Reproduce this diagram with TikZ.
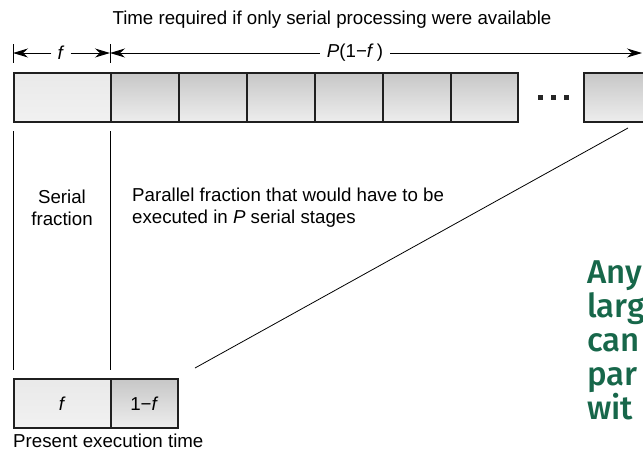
\documentclass[tikz,border=0pt]{standalone}
\usepackage{fontspec}
\setmainfont{Liberation Sans}
\newfontfamily\handfont{Fira Sans Medium}
\usetikzlibrary{arrows.meta}
\definecolor{hand}{HTML}{17674A}
\begin{document}
\begin{tikzpicture}[x=1pt,y=-1pt,
  boxbase/.style={draw=black!88, line width=1.7pt, minimum height=49pt, inner sep=0pt, anchor=north west},
  lbox/.style={boxbase, top color=gray!17, bottom color=gray!11},
  dbox/.style={boxbase, top color=gray!44, bottom color=gray!14},
  lab/.style={font=\fontsize{18.7}{22}\selectfont, inner sep=0pt},
  dim/.style={-{Stealth[length=15pt,width=9pt]}, line width=1pt},
  thin/.style={line width=0.9pt},
  dotsq/.style={fill=black!85},
  hw/.style={font=\handfont\fontsize{33}{34}\selectfont, text=hand, anchor=base west, inner sep=0pt}]
\clip (0,0) rectangle (643,451);
\useasboundingbox (0,0) rectangle (643,451);

% title
\node[lab] (title) at (332,20) {Time required if only serial processing were available};

% dimension row
\coordinate (b0) at (13,53);
\coordinate (b1) at (110,53);
\coordinate (b2) at (642,53);
\draw[thin] (13,44) -- (13,63);
\draw[thin] (110,44) -- (110,63);
\node[lab, inner xsep=6pt] (fdim) at (61,53) {\textit{f}};
\node[lab, inner xsep=7pt] (pdim) at (355,53) {\textit{P}(1\textminus\textit{f}\,)};
\draw[dim] (fdim.west) -- (b0);
\draw[dim] (fdim.east) -- (b1);
\draw[dim] (pdim.west) -- (b1);
\draw[dim] (pdim.east) -- (b2);

% top boxes
\node[lbox, minimum width=97pt] (s0) at (13,72) {};
\node[dbox, minimum width=68pt] (p1) at (110,72) {};
\node[dbox, minimum width=68pt] (p2) at (178,72) {};
\node[dbox, minimum width=68pt] (p3) at (246,72) {};
\node[dbox, minimum width=68pt] (p4) at (314,72) {};
\node[dbox, minimum width=68pt] (p5) at (382,72) {};
\node[dbox, minimum width=67pt] (p6) at (450,72) {};
\node[dbox, minimum width=76pt] (pn) at (583,72) {};
\fill[dotsq] (538,95) rectangle ++(4.5,4.5);
\fill[dotsq] (551,95) rectangle ++(4.5,4.5);
\fill[dotsq] (564,95) rectangle ++(4.5,4.5);

% vertical guide lines
\coordinate (v0t) at (13,131);
\coordinate (v0b) at (13,370);
\coordinate (v1t) at (110,131);
\coordinate (v1b) at (110,370);
\draw[thin] (v0t) -- (v0b);
\draw[thin] (v1t) -- (v1b);

% labels
\node[lab, align=center] (serial) at (62,208) {Serial\\fraction};
\node[lab, align=left, anchor=west] (par) at (132,208) {Parallel fraction that would have to be\\executed in \textit{P} serial stages};

% diagonal
\coordinate (d0) at (195,368);
\coordinate (d1) at (628,128);
\draw[line width=0.8pt] (d0) -- (d1);

% bottom boxes
\node[lbox, minimum width=97pt] (bf) at (13,378) {};
\node[dbox, minimum width=67pt] (bp) at (110,378) {};
\node[lab] at (bf.center) {\textit{f}};
\node[lab] at (bp.center) {1\textminus\textit{f}};
\node[lab, anchor=base west] (present) at (13,447) {Present execution time};

% handwritten note (clipped at the right edge, as in the reference)
\node[hw] (h1) at (587,283) {Any};
\node[hw] (h2) at (587,317) {larg};
\node[hw] (h3) at (587,351) {can};
\node[hw] (h4) at (587,385) {par};
\node[hw] (h5) at (587,419) {wit};
\end{tikzpicture}
\end{document}
